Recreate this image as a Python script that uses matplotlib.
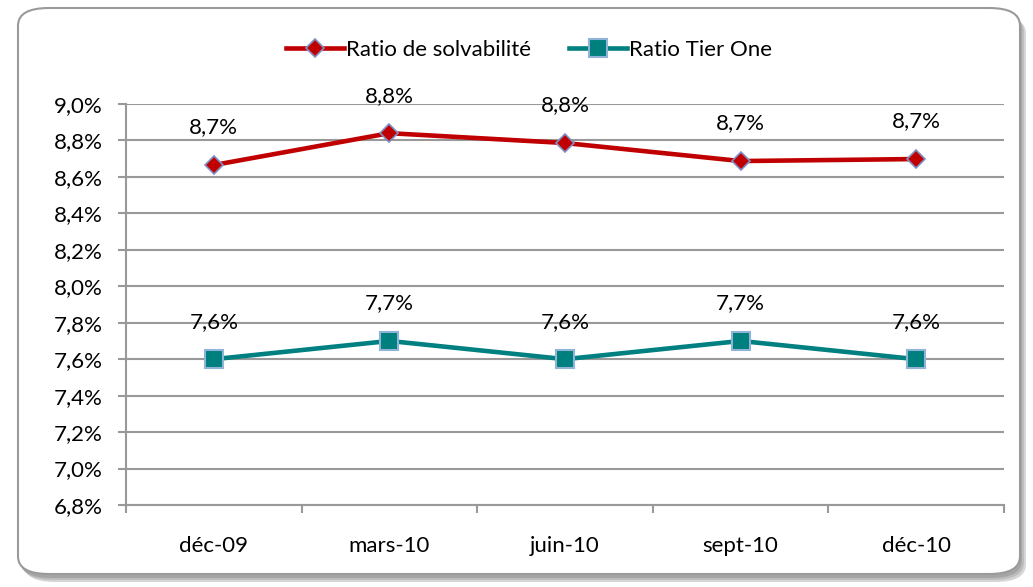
import numpy as np
import matplotlib
matplotlib.use('Agg')
import matplotlib.pyplot as plt
from matplotlib.patches import FancyBboxPatch

plt.rcParams['font.family'] = ['Lato', 'DejaVu Sans']

periods = ['déc-09', 'mars-10', 'juin-10', 'sept-10', 'déc-10']
solvency = [8.665, 8.84, 8.786, 8.687, 8.698]
solvency_labels = ['8,7%', '8,8%', '8,8%', '8,7%', '8,7%']
tier_one = [7.6, 7.7, 7.6, 7.7, 7.6]
tier_one_labels = ['7,6%', '7,7%', '7,6%', '7,7%', '7,6%']
yticks = [6.8, 7.0, 7.2, 7.4, 7.6, 7.8, 8.0, 8.2, 8.4, 8.6, 8.8, 9.0]

fig = plt.figure(figsize=(10.33, 5.87), dpi=100)

# rounded frame with soft grey shadow
for dx, dy, col in [(6, 8, '#d6d6d6'), (4, 6, '#bdbdbd'), (2, 4, '#a5a5a5')]:
    sh = FancyBboxPatch(((18 + dx) / 1033, (587 - 574 - dy) / 587), 1002 / 1033, 566 / 587,
                        boxstyle='round,pad=0,rounding_size=0.03', transform=fig.transFigure,
                        facecolor=col, edgecolor='none', zorder=0)
    fig.patches.append(sh)
frame = FancyBboxPatch((18 / 1033, (587 - 574) / 587), 1002 / 1033, 566 / 587,
                       boxstyle='round,pad=0,rounding_size=0.03', transform=fig.transFigure,
                       facecolor='white', edgecolor='#9a9a9a', linewidth=1.5, zorder=1)
fig.patches.append(frame)

ax = fig.add_axes([126 / 1033, 1 - 505 / 587, (1004 - 126) / 1033, (505 - 104) / 587])
ax.set_facecolor('none')
ax.set_zorder(2)

x = np.arange(len(periods))
ax.plot(x, solvency, color='#c00000', lw=3.3, marker='D', markersize=9,
        markerfacecolor='#c00000', markeredgecolor='#7e8fc6', markeredgewidth=1.2,
        label='Ratio de solvabilité', zorder=4)
ax.plot(x, tier_one, color='#008080', lw=3.3, marker='s', markersize=13,
        markerfacecolor='#007f7f', markeredgecolor='#8fb4d8', markeredgewidth=1.5,
        label='Ratio Tier One', zorder=4)

for xi, v, t in zip(x, solvency, solvency_labels):
    ax.annotate(t, (xi, v), xytext=(0, 27), textcoords='offset points',
                ha='center', va='center', fontsize=16)
for xi, v, t in zip(x, tier_one, tier_one_labels):
    ax.annotate(t, (xi, v), xytext=(0, 27), textcoords='offset points',
                ha='center', va='center', fontsize=16)

ax.set_xlim(-0.5, len(periods) - 0.5)
ax.set_ylim(6.8, 9.0)
ax.set_yticks(yticks)
ax.set_yticklabels([f'{v:.1f}%'.replace('.', ',') for v in yticks], fontsize=16)
ax.set_xticks(x)
ax.set_xticklabels(periods, fontsize=16)
ax.set_xticks(np.arange(-0.5, len(periods), 1), minor=True)
ax.tick_params(axis='x', which='major', length=0, pad=22)
ax.tick_params(axis='x', which='minor', length=6, color='#999999', width=1.5)
ax.tick_params(axis='y', length=6, color='#999999', width=1.5, pad=11)
ax.grid(axis='y', color='#999999', lw=1.5)
ax.set_axisbelow(True)
for s in ['top', 'right']:
    ax.spines[s].set_visible(False)
for s in ['left', 'bottom']:
    ax.spines[s].set_color('#999999')
    ax.spines[s].set_linewidth(1.5)

fig.legend(loc='center', bbox_to_anchor=(529 / 1033, 1 - 50 / 587), ncol=2, frameon=False,
           fontsize=16, handlelength=2.6, handletextpad=0.1, columnspacing=1.7)

fig.savefig('out.png', dpi=100)
